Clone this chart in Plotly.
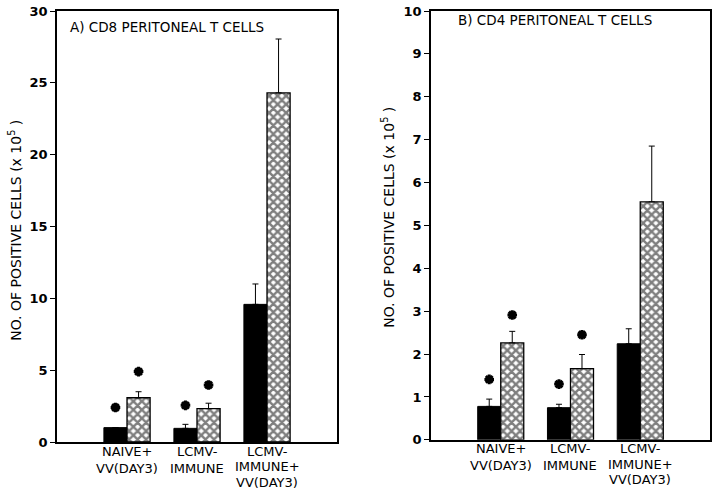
import plotly.graph_objects as go

# ---------------- data ----------------
groups = [1, 2, 3]
group_labels = [["NAIVE+", "VV(DAY3)"], ["LCMV-", "IMMUNE"], ["LCMV-", "IMMUNE+", "VV(DAY3)"]]

# Panel A: CD8 peritoneal T cells (x 10^5)
cd8_solid = [1.0, 0.95, 9.58]
cd8_solid_err = [0.0, 0.28, 1.42]
cd8_hatch = [3.08, 2.32, 24.3]
cd8_hatch_err = [0.42, 0.38, 3.75]
cd8_solid_star = [2.4, 2.55]      # groups 1 and 2
cd8_hatch_star = [4.9, 3.97]

# Panel B: CD4 peritoneal T cells (x 10^5)
cd4_solid = [0.78, 0.75, 2.24]
cd4_solid_err = [0.17, 0.08, 0.35]
cd4_hatch = [2.26, 1.66, 5.55]
cd4_hatch_err = [0.27, 0.33, 1.30]
cd4_solid_star = [1.41, 1.30]
cd4_hatch_star = [2.91, 2.45]

star_groups = [1, 2]

cd8_ticks = [0, 5, 10, 15, 20, 25, 30]
cd4_ticks = list(range(0, 11))

# ---------------- figure ----------------
FONT = "DejaVu Sans"
BARGAP = 0.34
half = (1 - BARGAP) / 4  # offset of each bar centre from group centre

fig = go.Figure()


def add_panel(solid, solid_err, hatch, hatch_err, s_star, h_star, xa, ya):
    fig.add_trace(go.Bar(
        x=groups, y=solid, xaxis=xa, yaxis=ya,
        marker=dict(color="black", line=dict(color="black", width=1)),
        error_y=dict(type="data", array=solid_err, arrayminus=[0] * len(solid_err),
                     symmetric=False, color="black", thickness=1, width=3),
        showlegend=False,
    ))
    fig.add_trace(go.Bar(
        x=groups, y=hatch, xaxis=xa, yaxis=ya,
        marker=dict(color="white", line=dict(color="black", width=1.3),
                    pattern=dict(shape="x", fgcolor="black", bgcolor="white",
                                 size=6, solidity=0.65, fillmode="overlay")),
        error_y=dict(type="data", array=hatch_err, arrayminus=[0] * len(hatch_err),
                     symmetric=False, color="black", thickness=1, width=3),
        showlegend=False,
    ))
    fig.add_trace(go.Scatter(
        x=[g - half for g in star_groups] + [g + half for g in star_groups],
        y=s_star + h_star, xaxis=xa, yaxis=ya, mode="markers",
        marker=dict(symbol="asterisk-open", size=8, color="black",
                    line=dict(color="black", width=3)),
        showlegend=False, hoverinfo="skip",
    ))


add_panel(cd8_solid, cd8_solid_err, cd8_hatch, cd8_hatch_err,
          cd8_solid_star, cd8_hatch_star, "x", "y")
add_panel(cd4_solid, cd4_solid_err, cd4_hatch, cd4_hatch_err,
          cd4_solid_star, cd4_hatch_star, "x2", "y2")

xcommon = dict(range=[0, 4], tickvals=groups, showticklabels=False, ticks="",
               showline=True, mirror=True, linecolor="black", linewidth=1.5,
               showgrid=False, zeroline=False, automargin=False)
ycommon = dict(ticks="outside", ticklen=5, tickwidth=1, tickcolor="black",
               showline=True, mirror=True, linecolor="black", linewidth=1.5,
               showgrid=False, zeroline=False, automargin=False,
               tickfont=dict(family=FONT, size=13, color="black", weight="bold"))

fig.update_layout(
    width=720, height=489,
    margin=dict(l=57, r=10, t=11, b=47),
    paper_bgcolor="white", plot_bgcolor="white",
    barmode="group", bargap=BARGAP, bargroupgap=0,
    xaxis=dict(domain=[0, 0.4288], anchor="y", **xcommon),
    xaxis2=dict(domain=[0.5727, 1.0], anchor="y2", **xcommon),
    yaxis=dict(domain=[0, 1], anchor="x", range=[0, 30], tickvals=cd8_ticks, **ycommon),
    yaxis2=dict(domain=[0.005, 1.0], anchor="x2", range=[0, 10], tickvals=cd4_ticks, **ycommon),
    font=dict(family=FONT, color="black"),
)

# category labels, one annotation per text line
for xa in ["x", "x2"]:
    for g, lines in zip(groups, group_labels):
        step = 15.5 if len(lines) > 2 else 17
        for i, line in enumerate(lines):
            fig.add_annotation(text=line, xref=xa, yref=xa.replace("x", "y") + " domain",
                               x=g, y=0, yshift=-9 - i * step, xanchor="center",
                               yanchor="middle", showarrow=False,
                               font=dict(family=FONT, size=13, color="black"))

ytitle = "NO. OF POSITIVE CELLS (x 10<sup>5</sup> )"
fig.add_annotation(text=ytitle, textangle=-90, xref="x domain", yref="y domain",
                   x=0, y=0.49, xshift=-42, xanchor="center", yanchor="middle",
                   showarrow=False, font=dict(family=FONT, size=14, color="black"))
fig.add_annotation(text=ytitle, textangle=-90, xref="x2 domain", yref="y2 domain",
                   x=0, y=0.52, xshift=-43, xanchor="center", yanchor="middle",
                   showarrow=False, font=dict(family=FONT, size=14, color="black"))
fig.add_annotation(text="A) CD8 PERITONEAL T CELLS", xref="x domain", yref="y domain",
                   x=0, y=1, xshift=11, yshift=-6, xanchor="left", yanchor="top",
                   showarrow=False, font=dict(family=FONT, size=13.5, color="black"))
fig.add_annotation(text="B) CD4 PERITONEAL T CELLS", xref="x2 domain", yref="y2 domain",
                   x=0, y=1, xshift=25, yshift=1, xanchor="left", yanchor="top",
                   showarrow=False, font=dict(family=FONT, size=13.5, color="black"))

fig.write_html("out.html", config={"displayModeBar": False},
               post_script="document.body.style.margin='0';document.body.style.padding='0';")
